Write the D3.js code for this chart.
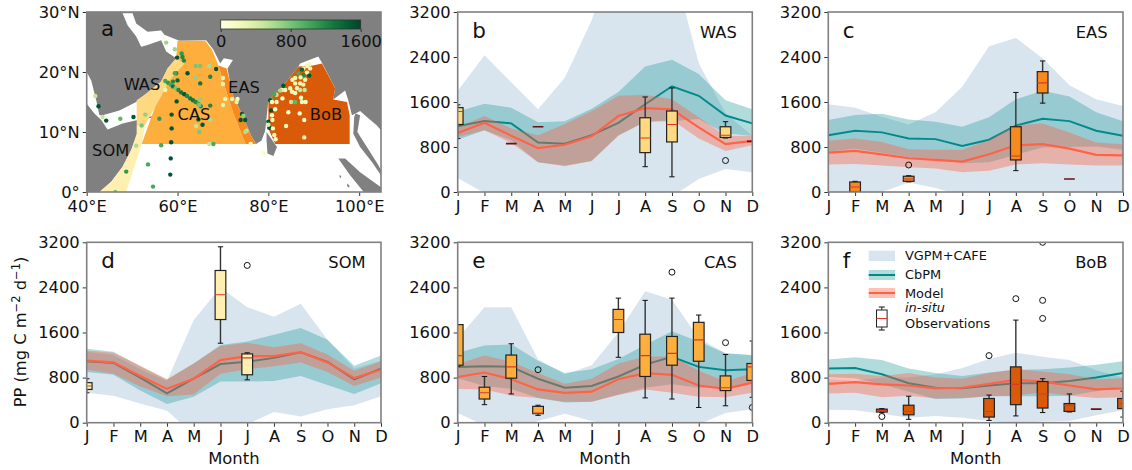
<!DOCTYPE html>
<html><head><meta charset="utf-8">
<script src="https://cdn.jsdelivr.net/npm/d3@7"></script>
<style>html,body{margin:0;padding:0;background:#fff}svg{display:block}text{font-family:"DejaVu Sans",sans-serif;fill:#111}</style>
</head><body><div id="c"></div>
<script>
const months=["J","F","M","A","M","J","J","A","S","O","N","D"];
const ppTicks=[0,800,1600,2400,3200];
const lonTicks=[40,60,80,100], latTicks=[0,10,20,30];
const cbTicks=[0,800,1600];

// ---- panel b WAS
const wasVgpmHi=[1800,2430,1950,1470,2030,3050,4400,4300,4110,2290,1400,1000];
const wasVgpmLo=[250,-20,-150,-200,-200,-200,-200,-200,-77,230,410,350];
const wasCbHi=[1430,1570,1500,1240,1260,1480,1780,2230,2350,2100,1630,1470];
const wasCbMid=[1170,1260,1220,880,860,1010,1230,1560,1880,1710,1360,1220];
const wasCbLo=[930,1100,920,530,470,550,1010,1250,1260,1300,1040,1000];
const wasModelHi=[1150,1350,1130,1010,1210,1440,1710,1730,1650,1330,1000,1000];
const wasModelMid=[1050,1230,1000,780,840,990,1350,1490,1470,1150,850,910];
const wasModelLo=[980,1100,870,530,460,550,1000,1250,1280,950,730,830];
const wasBoxes=[[0,950,1200,1430,1500,1550,[]],[2,860,860,860,860,860,[]],[3,1160,1160,1160,1160,1160,[]],[7,450,700,960,1320,1690,[]],[8,270,890,1200,1440,1850,[]],[10,960,970,1010,1160,1250,[560]],[11,900,900,900,900,900,[]]];
// ---- panel c EAS
const easVgpmHi=[1560,1500,1340,1200,1420,1870,2590,2740,2380,1900,1650,1530];
const easVgpmLo=[-100,-60,0,170,70,-60,-100,-100,-100,-100,-100,-100];
const easCbHi=[1280,1370,1390,1290,1250,1160,1330,1650,1800,1700,1420,1260];
const easCbMid=[1010,1090,1060,950,940,820,930,1180,1300,1260,1090,1000];
const easCbLo=[720,770,700,620,590,510,530,660,790,800,810,750];
const easModelHi=[910,950,890,760,750,750,925,1190,1220,1060,880,850];
const easModelMid=[700,730,670,600,570,540,670,830,850,770,660,650];
const easModelLo=[490,500,470,440,420,350,380,490,510,490,470,470];
const easBoxes=[[1,0,0,90,178,190,[]],[3,180,190,230,280,290,[480]],[7,380,570,640,1160,1770,[]],[8,1580,1760,1940,2140,2330,[]],[9,230,230,230,230,230,[]]];
// ---- panel d SOM
const somVgpmHi=[1260,1200,950,740,1820,2400,2050,1880,2110,1470,960,1100];
const somVgpmLo=[530,480,340,210,-200,-300,-30,190,110,240,310,470];
const somCbHi=[1310,1260,1000,760,1050,1380,1440,1560,1680,1470,1010,1190];
const somCbMid=[1090,1060,800,520,780,1040,1080,1150,1250,1080,770,960];
const somCbLo=[900,850,570,330,460,730,730,740,830,670,510,700];
const somModelHi=[1280,1240,1010,770,1050,1360,1420,1340,1410,1210,920,1090];
const somModelMid=[1100,1070,830,600,780,1110,1180,1180,1250,1070,790,940];
const somModelLo=[940,870,640,470,500,870,950,1000,1070,900,650,800];
const somBoxes=[[0,530,590,650,710,780,[]],[5,1410,1830,2270,2700,3120,[]],[6,760,850,1150,1220,1240,[2790]]];
// ---- panel e CAS
const casVgpmHi=[1500,2050,2050,1120,860,1020,1600,2330,2180,1500,1230,1190];
const casVgpmLo=[170,-50,-150,30,160,30,-50,-100,-100,-30,170,240];
const casCbHi=[1240,1370,1390,1100,880,950,1130,1380,1620,1440,1230,1200];
const casCbMid=[990,1000,990,780,620,650,820,1030,1170,990,930,950];
const casCbLo=[790,650,600,440,360,370,500,620,680,620,630,700];
const casModelHi=[1040,1190,1080,880,690,780,1050,1170,1180,920,730,880];
const casModelMid=[810,890,770,590,530,550,770,880,850,660,600,710];
const casModelLo=[600,590,480,440,370,370,490,590,530,460,450,530];
const casBoxes=[[0,1000,1020,1190,1740,1740,[]],[1,320,420,530,630,820,[]],[2,510,790,990,1200,1400,[]],[3,130,160,170,290,310,[940]],[6,1160,1600,1830,2010,2210,[]],[7,440,820,1190,1570,2170,[]],[8,420,1020,1230,1530,2210,[2670]],[9,270,1090,1470,1780,1910,[]],[10,300,570,620,830,1210,[1420]],[11,450,750,990,1050,1450,[270]]];
// ---- panel f BoB
const bobVgpmHi=[770,740,800,800,860,970,1130,1240,1170,1110,930,800];
const bobVgpmLo=[230,220,160,90,120,90,30,-10,20,30,130,220];
const bobCbHi=[1120,1160,1110,960,880,830,890,940,950,980,1030,1090];
const bobCbMid=[960,970,860,700,620,610,660,700,700,740,800,880];
const bobCbLo=[810,790,680,550,420,430,470,470,470,480,560,640];
const bobModelHi=[860,870,830,880,800,780,880,950,910,860,770,790];
const bobModelMid=[690,720,680,660,610,620,690,760,730,660,590,610];
const bobModelLo=[520,530,450,480,430,440,470,480,540,480,440,450];
const bobBoxes=[[2,180,190,210,240,250,[110]],[3,60,140,200,310,470,[]],[6,40,100,200,430,490,[1190]],[7,120,320,680,990,1820,[2200]],[8,180,260,510,730,780,[1850,2170,3200]],[9,190,200,310,340,510,[]],[10,240,240,240,240,240,[]],[11,100,250,340,430,560,[]]];

// ---- map (lon, lat)
const oceanOutline=[[42.8,0],[45.4,1.7],[47.9,4.2],[49.8,7],[51.2,9.7],[51.2,12],[47.9,11.4],[44.6,10.4],[43.2,12],[41.7,13.1],[40,14.7],[40,20],[41,18.6],[42.1,15.3],[42.8,12.8],[43.5,12.8],[47.2,13.6],[50.9,15],[53.8,16.7],[56.4,18.4],[57.8,20.6],[59.7,22.3],[57.5,23.4],[56.4,25.3],[55.3,25],[53.4,24.5],[52,24.2],[50.9,25.9],[49,27.8],[47.9,29.8],[50.1,29.8],[50.9,28.1],[53.4,26.7],[56.4,26.9],[57.1,26.2],[60.4,25.2],[66.3,25.3],[67.9,23.7],[69.4,21.4],[70.2,22.3],[72.2,22],[71,20.6],[71.6,18.1],[72.3,15.9],[74.1,13.1],[76.3,9.2],[77.3,8],[78.5,8.6],[79.3,10.2],[80,15.3],[83.3,17.8],[86.6,20.9],[87,21.4],[91,22.6],[91.9,21.4],[94.7,17.3],[94.3,15.4],[96.9,16.9],[97.6,15.3],[98.4,12.8],[99.2,13.1],[100.2,13.5],[101.7,12.5],[103.9,11.1],[104.8,10.3],[104.8,0]];
const malayLand=[[99.2,13.1],[100.2,12.8],[99.6,10],[101.7,7.5],[104.2,4.5],[104.8,3.6],[104.8,2.8],[102.8,5],[100.2,7.5],[98.7,9.7],[98.9,12.5]];
const sumatraLand=[[95.4,5.6],[96.9,5.6],[100.2,3.3],[104.8,.8],[104.8,0],[101,0],[98,2.8]];
const sriLankaLand=[[79.6,10],[81.9,7.5],[81.1,6],[79.8,6.4],[79.6,8.6]];
const isleA=[[95.6,2.8],[96,2.7],[96,2.3],[95.7,2.5]];
const isleB=[[97.4,1.4],[97.9,1],[97.7,.7],[97.3,1.1]];
const socotra=[[53.3,12.6],[54.4,12.6],[54.3,12.3],[53.4,12.4]];
const somRegion=[[42.8,0],[45.4,1.7],[47.9,4.2],[49.8,7],[51,9.7],[51,11.1],[52.8,11.1],[52.1,8],[48.7,0]];
const wasRegion=[[61.5,21.4],[58.4,18.8],[55,14.1],[52.8,11.1],[51,11.1],[51,15.3],[52.5,16.1],[56.4,18.4],[57.8,20.6],[59.7,22.3]];
const casRegion=[[60,25.2],[66.1,25.2],[67.6,23.7],[69,21.1],[70.5,17.3],[72.3,13.1],[75,8],[52.1,8],[55,14.1],[58.4,18.8],[61.5,21.4],[59.7,22.3]];
const easRegion=[[69,21.1],[70.8,20.6],[71.6,18.1],[72.3,15.9],[74.1,13.1],[76.3,9.2],[77.3,8],[75,8],[72.3,13.1],[70.5,17.3]];
const bobRegion=[[80,15.3],[83.3,17.8],[86.6,20.9],[89.8,21.1],[91.8,21.4],[94.7,17.3],[94.3,15.4],[97.3,15],[97.9,12.8],[97.9,8],[81.5,8],[80,10.6]];
const stations=[[57.5,24.9,650],[59.4,23.8,650],[60.9,23.1,1100],[59.9,22.4,1500],[61.1,22.5,1200],[61.4,21.9,1200],[64,21,800],[65,21,800],[67,21,600],[68.5,20.5,1500],[62.2,19.8,1500],[59.7,19.8,1200],[59.4,19.8,1000],[67.2,19.2,1200],[64,19,700],[70,19,300],[60,18.6,1400],[59,18.4,1200],[65,18.1,1300],[70,18,300],[57.3,18.5,1000],[57.9,18.2,1100],[58.5,17.9,1000],[59,17.6,1300],[59.6,17.3,800],[60.2,17,1200],[60.8,16.6,1300],[61.5,16.3,1500],[62.1,16,1200],[62.8,15.6,1300],[63.4,15.3,1300],[64,15,1200],[64.6,14.7,1000],[65.1,14.3,1200],[57.3,17,300],[59.8,15.1,1500],[65,15.4,700],[67.2,14.4,1200],[64.8,14.5,800],[70.5,15.5,300],[72,15.5,300],[73.2,15.5,200],[73,15,300],[70,14.5,300],[58.7,12.9,1500],[52.9,12.9,700],[56,12.2,1100],[64.6,12.1,1500],[65.5,11.2,1500],[67.2,12,600],[64.1,11,500],[58.7,10.6,1500],[64.8,10,800],[58.6,8.3,1500],[56.4,7.8,1000],[67,8,500],[67.9,8,1000],[58.5,5.6,1500],[53.5,4.6,1000],[58.4,2.9,1500],[48.7,3.4,1100],[50.9,7.7,600],[52.1,11.1,800],[54.6,.9,1000],[46.3,0,800],[41.9,16,500],[42.6,14.3,1500],[43.5,12.5,500],[44.3,11.9,1500],[47.4,12.2,900],[50.3,12.5,1500],[74.2,13,1500],[74.5,12.7,700],[73.9,12,1500],[74.9,12,1500],[75.2,10.2,500],[74.9,10,600],[76.1,8,150],[78.9,6.5,100],[89,21.3,200],[88.5,21,250],[87.7,20.6,200],[89.2,20.6,250],[87.4,20.4,1400],[88.5,19.9,200],[89,19.4,1500],[87.7,19.5,1200],[86.6,19.7,1000],[87.1,19.1,250],[85.9,19,300],[85.3,18.7,250],[88.1,18.7,300],[87,18.1,250],[87.7,17.9,300],[85.9,18.1,250],[86.3,17.3,200],[84.8,17.3,300],[85.2,16.7,200],[83.7,17,250],[83,17,300],[83.3,17.7,1500],[82.6,16.9,600],[81.8,16.2,500],[81.3,16.3,1000],[80.6,15.4,900],[85.9,16.5,200],[87,17,500],[88,17,500],[83.1,15.6,150],[85,15,500],[85.9,15,900],[87.2,15.7,200],[87.4,15,200],[88.2,15,200],[84.4,13.3,150],[86.9,13.1,150],[87.9,12,150],[83.9,11,200],[87.9,9.1,250],[80.4,15.3,1500],[80.6,13.6,1500],[80,11.7,1500],[80.2,10.7,1500],[80.8,15,200],[81.8,15,200],[81.5,13.8,150],[80.8,12.8,200],[80.9,12,250],[80,11.2,400],[81,10.6,200],[81.3,9.5,200],[81.6,8.8,200]];

const W=1132,H=470;
const svg=d3.select("#c").append("svg").attr("width",W).attr("height",H).attr("viewBox",`0 0 ${W} ${H}`);
const defs=svg.append("defs");
const colX=[[86.7,381],[457.7,752.3],[828.3,1123]];
const rowY=[[12,192],[242.3,422.7]];
const SPINE="#808080", TICK="#333", FS=16.3;
const BAND={vgpm:["#a9c6dc",.45],cb:["#008b8b",.3],model:["#ff6347",.4]};

function axesStyle(g){
  g.selectAll(".domain").remove();
  g.selectAll("line").attr("stroke",TICK).attr("stroke-width",1);
  g.selectAll("text").attr("font-size",FS).attr("fill","#111").attr("font-family",'"DejaVu Sans",sans-serif');
}
function frame(g,xr,yr){
  g.append("rect").attr("x",xr[0]).attr("y",yr[0]).attr("width",xr[1]-xr[0]).attr("height",yr[1]-yr[0])
   .attr("fill","none").attr("stroke",SPINE).attr("stroke-width",1.6);
}
function clip(id,xr,yr){
  defs.append("clipPath").attr("id",id).append("rect").attr("x",xr[0]).attr("y",yr[0]).attr("width",xr[1]-xr[0]).attr("height",yr[1]-yr[0]);
}

function panel(o){
  const xr=colX[o.col], yr=rowY[o.row];
  const x=d3.scaleLinear().domain([0,11]).range(xr);
  const y=d3.scaleLinear().domain([0,3200]).range([yr[1],yr[0]]);
  const id="clip"+o.letter; clip(id,xr,yr);
  const g=svg.append("g");
  const body=g.append("g").attr("clip-path",`url(#${id})`);
  const area=(hi,lo)=>d3.area().x((d,i)=>x(i)).y0((d,i)=>y(lo[i])).y1((d,i)=>y(hi[i]))(months);
  const line=v=>d3.line().x((d,i)=>x(i)).y(d=>y(d))(v);
  const band=(k,hi,lo)=>body.append("path").attr("d",area(hi,lo)).attr("fill",BAND[k][0]).attr("fill-opacity",BAND[k][1]);
  band("vgpm",o.vHi,o.vLo);
  band("cb",o.cHi,o.cLo);
  body.append("path").attr("d",line(o.cMid)).attr("fill","none").attr("stroke","#008b8b").attr("stroke-width",2);
  band("model",o.mHi,o.mLo);
  body.append("path").attr("d",line(o.mMid)).attr("fill","none").attr("stroke","#ff6347").attr("stroke-width",2.2);
  const bw=(x(1)-x(0))*.4, cw=bw*.5;
  o.boxes.forEach(([m,lo,q1,med,q3,hi,fl])=>{
    const b=body.append("g"), cx=x(m);
    if(q1===q3){
      b.append("line").attr("x1",cx-bw/2).attr("x2",cx+bw/2).attr("y1",y(med)).attr("y2",y(med)).attr("stroke","#6b1010").attr("stroke-width",1.6);
      return;
    }
    b.append("line").attr("x1",cx).attr("x2",cx).attr("y1",y(hi)).attr("y2",y(lo)).attr("stroke","#333").attr("stroke-width",1.4);
    [lo,hi].forEach(v=>b.append("line").attr("x1",cx-cw/2).attr("x2",cx+cw/2).attr("y1",y(v)).attr("y2",y(v)).attr("stroke","#111").attr("stroke-width",1));
    b.append("rect").attr("x",cx-bw/2).attr("width",bw).attr("y",y(q3)).attr("height",y(q1)-y(q3)).attr("fill",o.color).attr("stroke","#222").attr("stroke-width",1.2);
    b.append("line").attr("x1",cx-bw/2).attr("x2",cx+bw/2).attr("y1",y(med)).attr("y2",y(med)).attr("stroke","#d9392b").attr("stroke-width",1.1);
    fl.forEach(v=>b.append("circle").attr("cx",cx).attr("cy",y(v)).attr("r",3).attr("fill","none").attr("stroke","#111").attr("stroke-width",1));
  });
  g.append("g").attr("transform",`translate(0,${yr[1]})`).call(d3.axisBottom(x).tickValues(d3.range(12)).tickSize(4).tickPadding(4).tickFormat(i=>months[i])).call(axesStyle);
  g.append("g").attr("transform",`translate(${xr[0]},0)`).call(d3.axisLeft(y).tickValues(ppTicks).tickSize(4).tickPadding(3)
    .tickFormat(d3.format("d"))).call(axesStyle);
  frame(g,xr,yr);
  g.append("text").attr("x",xr[0]+14.5).attr("y",yr[0]+25.5).attr("font-size",21.5).text(o.letter);
  g.append("text").attr("x",xr[1]-15.5).attr("y",yr[0]+25.7).attr("text-anchor","end").attr("font-size",FS).text(o.name);
  if(o.row===1) g.append("text").attr("x",(xr[0]+xr[1])/2).attr("y",464).attr("text-anchor","middle").attr("font-size",16.4).text("Month");
}

panel({col:1,row:0,letter:"b",name:"WAS",color:"#fed97f",vHi:wasVgpmHi,vLo:wasVgpmLo,cHi:wasCbHi,cMid:wasCbMid,cLo:wasCbLo,mHi:wasModelHi,mMid:wasModelMid,mLo:wasModelLo,boxes:wasBoxes});
panel({col:2,row:0,letter:"c",name:"EAS",color:"#f78a1e",vHi:easVgpmHi,vLo:easVgpmLo,cHi:easCbHi,cMid:easCbMid,cLo:easCbLo,mHi:easModelHi,mMid:easModelMid,mLo:easModelLo,boxes:easBoxes});
panel({col:0,row:1,letter:"d",name:"SOM",color:"#fff0b2",vHi:somVgpmHi,vLo:somVgpmLo,cHi:somCbHi,cMid:somCbMid,cLo:somCbLo,mHi:somModelHi,mMid:somModelMid,mLo:somModelLo,boxes:somBoxes});
panel({col:1,row:1,letter:"e",name:"CAS",color:"#fdae3d",vHi:casVgpmHi,vLo:casVgpmLo,cHi:casCbHi,cMid:casCbMid,cLo:casCbLo,mHi:casModelHi,mMid:casModelMid,mLo:casModelLo,boxes:casBoxes});
panel({col:2,row:1,letter:"f",name:"BoB",color:"#d95a08",vHi:bobVgpmHi,vLo:bobVgpmLo,cHi:bobCbHi,cMid:bobCbMid,cLo:bobCbLo,mHi:bobModelHi,mMid:bobModelMid,mLo:bobModelLo,boxes:bobBoxes});

// y label
const yl=svg.append("text").attr("transform","translate(26,332) rotate(-90)").attr("text-anchor","middle").attr("font-size",FS);
yl.append("tspan").text("PP (mg C m");
yl.append("tspan").attr("dy",-6).attr("font-size",11.5).text("\u22122");
yl.append("tspan").attr("dy",6).text(" d");
yl.append("tspan").attr("dy",-6).attr("font-size",11.5).text("\u22121");
yl.append("tspan").attr("dy",6).text(")");

// map
(function(){
  const xr=colX[0], yr=rowY[0];
  const lon=d3.scaleLinear().domain([40,104.8]).range(xr);
  const lat=d3.scaleLinear().domain([0,30]).range([yr[1],yr[0]]);
  clip("clipa",xr,yr);
  const g=svg.append("g");
  const body=g.append("g").attr("clip-path","url(#clipa)");
  const poly=d3.line().x(d=>lon(d[0])).y(d=>lat(d[1])).curve(d3.curveLinearClosed);
  body.append("rect").attr("x",xr[0]).attr("y",yr[0]).attr("width",xr[1]-xr[0]).attr("height",yr[1]-yr[0]).attr("fill","#808080");
  body.append("path").attr("d",poly(oceanOutline)).attr("fill","#fff");
  [malayLand,sumatraLand,sriLankaLand,isleA,isleB,socotra].forEach(p=>body.append("path").attr("d",poly(p)).attr("fill","#808080"));
  [[somRegion,"#fff0b2"],[wasRegion,"#fed97f"],[casRegion,"#fdae3d"],[easRegion,"#f78a1e"],[bobRegion,"#d95a08"]].forEach(([p,c])=>body.append("path").attr("d",poly(p)).attr("fill",c));
  const col=d3.scaleSequential(d3.interpolateYlGn).domain([0,1600]);
  body.selectAll("circle.s").data(stations).join("circle").attr("class","s").attr("cx",d=>lon(d[0])).attr("cy",d=>lat(d[1])).attr("r",2.2).attr("fill",d=>col(d[2]));
  g.append("g").attr("transform",`translate(0,${yr[1]})`).call(d3.axisBottom(lon).tickValues(lonTicks).tickSize(4).tickPadding(4).tickFormat(d=>d+"°E")).call(axesStyle);
  g.append("g").attr("transform",`translate(${xr[0]},0)`).call(d3.axisLeft(lat).tickValues(latTicks).tickSize(4).tickPadding(3).tickFormat(d=>d===0?"0°":d+"°N")).call(axesStyle);
  frame(g,xr,yr);
  g.append("text").attr("x",101).attr("y",36).attr("font-size",21.5).text("a");
  [["WAS",142,90],["EAS",244,93],["CAS",194,120],["BoB",326,120],["SOM",110.7,156]].forEach(([t,a,b])=>g.append("text").attr("x",a).attr("y",b).attr("text-anchor","middle").attr("font-size",FS).text(t));
  // colour bar
  const cb=d3.scaleLinear().domain([0,1600]).range([220.7,360.7]);
  const grad=defs.append("linearGradient").attr("id","cbg");
  d3.range(0,1.0001,.1).forEach(t=>grad.append("stop").attr("offset",t).attr("stop-color",d3.interpolateYlGn(t)));
  g.append("rect").attr("x",cb(0)).attr("y",20).attr("width",cb(1600)-cb(0)).attr("height",9).attr("fill","url(#cbg)").attr("stroke","#333").attr("stroke-width",.8);
  g.append("g").attr("transform","translate(0,29)").call(d3.axisBottom(cb).tickValues(cbTicks).tickSize(3).tickPadding(3).tickFormat(d3.format("d"))).call(axesStyle);
})();

// legend
(function(){
  const g=svg.append("g");
  const x0=868.7,x1=895,tx=905;
  g.append("rect").attr("x",x0).attr("y",250.7).attr("width",x1-x0).attr("height",10.3).attr("fill",BAND.vgpm[0]).attr("fill-opacity",.45);
  [[270,"cb","#008b8b"],[288,"model","#ff6347"]].forEach(([yy,k,c])=>{
    g.append("rect").attr("x",x0).attr("y",yy).attr("width",x1-x0).attr("height",10).attr("fill",BAND[k][0]).attr("fill-opacity",BAND[k][1]);
    g.append("line").attr("x1",x0).attr("x2",x1).attr("y1",yy+5).attr("y2",yy+5).attr("stroke",c).attr("stroke-width",2);
  });
  [["VGPM+CAFE",260,"normal"],["CbPM",279,"normal"],["Model",297.5,"normal"],["in-situ",312,"italic"],["Observations",327.5,"normal"]].forEach(([t,b,st])=>
    g.append("text").attr("x",tx).attr("y",b).attr("font-size",12.9).attr("font-style",st).text(t));
  const cx=881.8;
  g.append("line").attr("x1",cx).attr("x2",cx).attr("y1",307).attr("y2",330).attr("stroke","#222");
  [307,330].forEach(v=>g.append("line").attr("x1",cx-3).attr("x2",cx+3).attr("y1",v).attr("y2",v).attr("stroke","#111"));
  g.append("rect").attr("x",cx-5.3).attr("y",310).attr("width",10.6).attr("height",17).attr("fill","#fff").attr("stroke","#222");
  g.append("line").attr("x1",cx-5.3).attr("x2",cx+5.3).attr("y1",318.5).attr("y2",318.5).attr("stroke","#d9392b").attr("stroke-width",1.1);
})();
</script></body></html>
